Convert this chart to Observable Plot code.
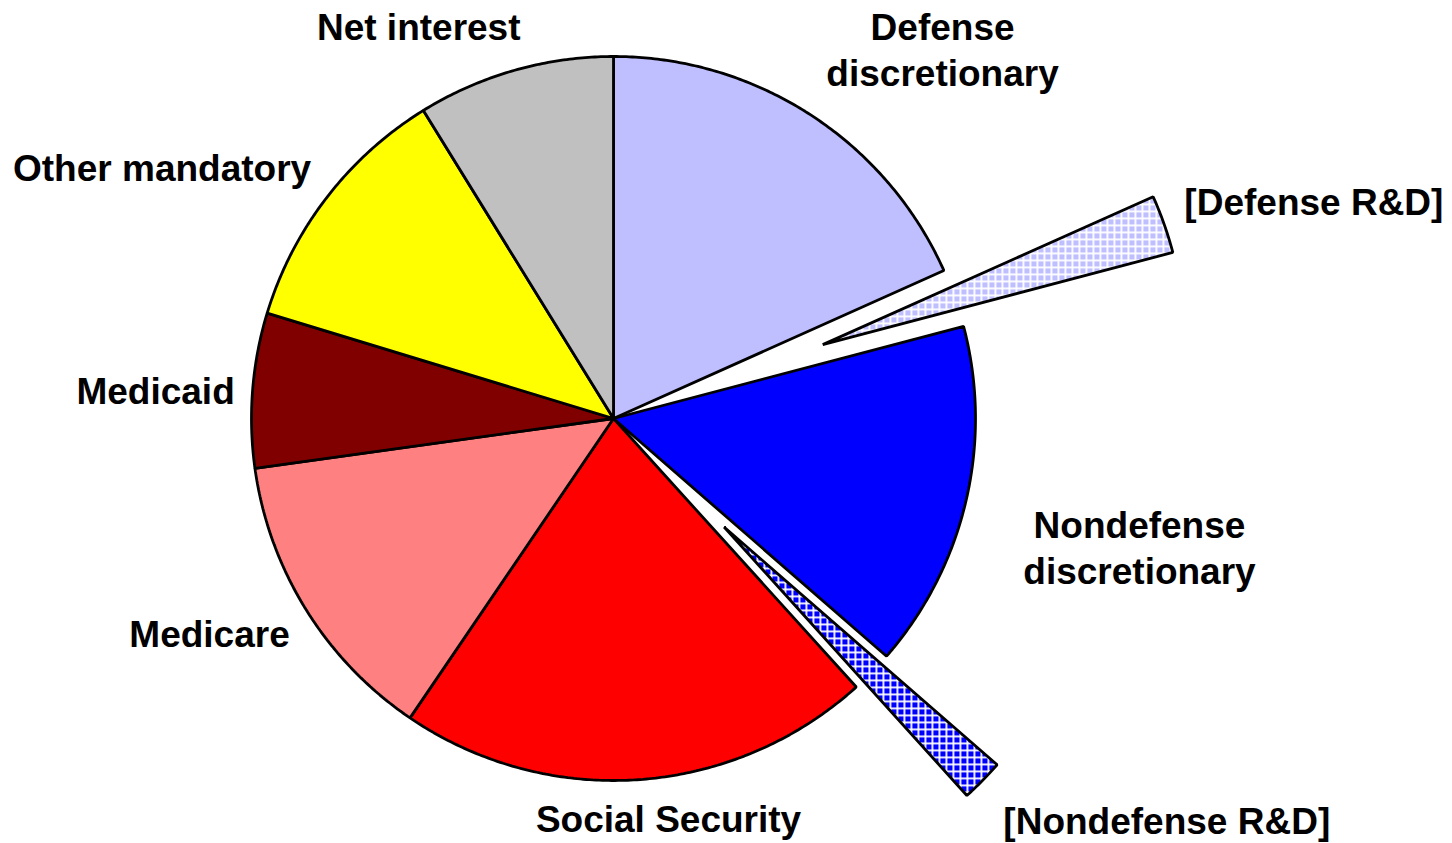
<!DOCTYPE html>
<html>
<head>
<meta charset="utf-8">
<script src="https://cdn.jsdelivr.net/npm/d3@7"></script>
<script src="https://cdn.jsdelivr.net/npm/@observablehq/plot@0.6"></script>
<style>
  html, body { margin: 0; padding: 0; background: #ffffff; }
  #chart svg { display: block; }
</style>
</head>
<body>
<div id="chart"></div>
<script>
// ---- Data (shares of the budget, percent) ----
const categories = [
  "Defense discretionary",
  "[Defense R&D]",
  "Nondefense discretionary",
  "[Nondefense R&D]",
  "Social Security",
  "Medicare",
  "Medicaid",
  "Other mandatory",
  "Net interest"
];
const values = [18.3, 2.6, 15.5, 1.9, 21.2, 13.3, 6.9, 11.5, 8.8];
const labelTexts = [
  "Defense\ndiscretionary",
  "[Defense R&D]",
  "Nondefense\ndiscretionary",
  "[Nondefense R&D]",
  "Social Security",
  "Medicare",
  "Medicaid",
  "Other mandatory",
  "Net interest"
];

// ---- Styles / layout (kept separate from the data) ----
const fills = {
  "Defense discretionary": "#BFBFFF",
  "[Defense R&D]": "url(#patDefense)",
  "Nondefense discretionary": "#0000FF",
  "[Nondefense R&D]": "url(#patNondefense)",
  "Social Security": "#FF0000",
  "Medicare": "#FF8080",
  "Medicaid": "#800000",
  "Other mandatory": "#FFFF00",
  "Net interest": "#C0C0C0"
};
const explode = { "[Defense R&D]": 0.613, "[Nondefense R&D]": 0.428 }; // in radius units
const labelLayout = {
  "Defense discretionary":    { x: 0.909,  y: 1.023, anchor: "middle" },
  "[Defense R&D]":            { x: 1.577,  y: 0.602, anchor: "start" },
  "Nondefense discretionary": { x: 1.453,  y: -0.352, anchor: "middle" },
  "[Nondefense R&D]":         { x: 1.077,  y: -1.108, anchor: "start" },
  "Social Security":          { x: 0.152,  y: -1.103, anchor: "middle" },
  "Medicare":                 { x: -1.116, y: -0.590, anchor: "middle" },
  "Medicaid":                 { x: -1.265, y: 0.080, anchor: "middle" },
  "Other mandatory":          { x: -1.247, y: 0.698, anchor: "middle" },
  "Net interest":             { x: -0.538, y: 1.086, anchor: "middle" }
};

const W = 1452, H = 843;
const CX = 613, CY = 418, R = 362; // pie centre and radius in pixels

// ---- Build slice polygons in radius units (clockwise from 12 o'clock) ----
const total = d3.sum(values);
const slicePoints = [];
let acc = 0;
categories.forEach((name, i) => {
  const a0 = acc / total * 2 * Math.PI;
  acc += values[i];
  const a1 = acc / total * 2 * Math.PI;
  const mid = (a0 + a1) / 2;
  const e = explode[name] || 0;
  const ox = e * Math.sin(mid), oy = e * Math.cos(mid);
  slicePoints.push({ name, x: ox, y: oy, fill: fills[name] });
  const n = Math.max(2, Math.ceil((a1 - a0) / (Math.PI / 360)));
  for (let k = 0; k <= n; k++) {
    const a = a0 + (a1 - a0) * k / n;
    slicePoints.push({ name, x: ox + Math.sin(a), y: oy + Math.cos(a), fill: fills[name] });
  }
});

const labelData = categories.map((name, i) => ({
  name,
  text: labelTexts[i],
  x: labelLayout[name].x,
  y: labelLayout[name].y,
  anchor: labelLayout[name].anchor
}));

const svg = Plot.plot({
  width: W,
  height: H,
  margin: 0,
  x: { domain: [(0 - CX) / R, (W - CX) / R], axis: null },
  y: { domain: [(CY - H) / R, CY / R], axis: null },
  color: { type: "identity" },
  style: { fontFamily: "'Liberation Sans', Arial, sans-serif", background: "#ffffff", overflow: "visible" },
  marks: [
    Plot.line(slicePoints, {
      x: "x", y: "y", z: "name", fill: "fill",
      stroke: "#000000", strokeWidth: 2.8, strokeLinejoin: "miter",
      curve: "linear-closed"
    }),
    ...["start", "middle"].map(anc =>
      Plot.text(labelData.filter(d => d.anchor === anc), {
        x: "x", y: "y", text: "text",
        textAnchor: anc,
        fontSize: 37, fontWeight: "bold", fill: "#000000",
        lineHeight: 1.24
      })
    )
  ]
});

// Checkered patterns for the R&D slices
const defs = d3.select(svg).insert("defs", ":first-child");
function addPattern(id, color) {
  const p = defs.append("pattern")
    .attr("id", id)
    .attr("patternUnits", "userSpaceOnUse")
    .attr("width", 7).attr("height", 7);
  p.append("rect").attr("width", 7).attr("height", 7).attr("fill", "#ffffff");
  p.append("rect").attr("x", 1.8).attr("y", 1.8).attr("width", 5.2).attr("height", 5.2).attr("fill", color);
}
addPattern("patDefense", "#BFBFFF");
addPattern("patNondefense", "#0000FF");

document.getElementById("chart").appendChild(svg);
</script>
</body>
</html>
